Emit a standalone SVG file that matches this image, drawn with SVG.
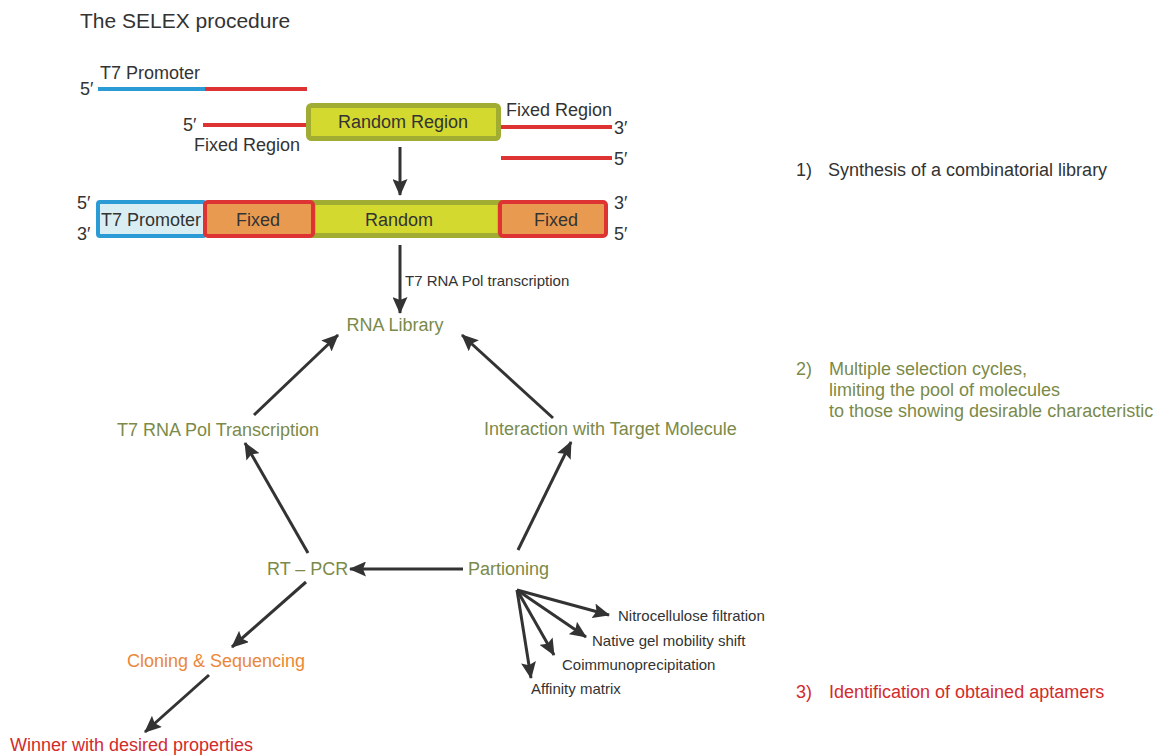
<svg xmlns="http://www.w3.org/2000/svg" width="1169" height="755" viewBox="0 0 1169 755">
<defs>
<style>
text{font-family:"Liberation Sans",Arial,sans-serif;fill:#333333}
.t16{font-size:18px}
.t17{font-size:18px}
.t13{font-size:15px}
.olive{fill:#7b8a48}
.orange{fill:#ea8838}
.red{fill:#d22b2b}
.conn{stroke:#333333;stroke-width:3;fill:none}
.redl{stroke:#dd3333;stroke-width:4}
.bluel{stroke:#2b9bd6;stroke-width:4}
</style>
<marker id="ah" markerUnits="userSpaceOnUse" markerWidth="17" markerHeight="15" refX="16" refY="7.5" orient="auto">
<path d="M0,0 L17,7.5 L0,15 L3,7.5 Z" fill="#333333"/>
</marker>
</defs>
<rect width="1169" height="755" fill="#ffffff"/>

<text x="80" y="28" style="font-size:21px">The SELEX procedure</text>

<g id="strand-top">
<text x="100" y="79" class="t16">T7 Promoter</text>
<text x="80" y="95" class="t16">5′</text>
<line x1="98" y1="89" x2="206" y2="89" class="bluel"/>
<line x1="205" y1="89" x2="307" y2="89" class="redl"/>
</g>

<g id="strand-left">
<text x="183" y="131" class="t16">5′</text>
<line x1="203" y1="125" x2="308" y2="125" class="redl"/>
<text x="194" y="151" class="t16">Fixed Region</text>
</g>

<g id="random-region">
<rect x="308.5" y="105.5" width="190" height="33" rx="3" fill="#d4d92f" stroke="#a0ad32" stroke-width="5"/>
<text x="403" y="128" class="t17" text-anchor="middle">Random Region</text>
</g>

<g id="strand-right">
<text x="506" y="116" class="t16">Fixed Region</text>
<line x1="501" y1="127" x2="612" y2="127" class="redl"/>
<text x="614" y="134" class="t16">3′</text>
<line x1="501" y1="158" x2="612" y2="158" class="redl"/>
<text x="614" y="165" class="t16">5′</text>
</g>

<g id="dsDNA">
<text x="77" y="209" class="t16">5′</text>
<text x="77" y="240" class="t16">3′</text>
<rect x="98" y="202" width="107" height="34" rx="2" fill="#d8eef2" stroke="#2b9bd6" stroke-width="4"/>
<text x="151" y="226" class="t17" text-anchor="middle">T7 Promoter</text>
<rect x="313" y="202.5" width="187" height="33" fill="#d4d92f" stroke="#a0ad32" stroke-width="5"/>
<text x="399" y="226" class="t17" text-anchor="middle">Random</text>
<rect x="205" y="202" width="108" height="34" rx="3" fill="#e89b50" stroke="#dd3333" stroke-width="4"/>
<text x="258" y="226" class="t17" text-anchor="middle">Fixed</text>
<rect x="500" y="202" width="106" height="34" rx="3" fill="#e89b50" stroke="#dd3333" stroke-width="4"/>
<text x="556" y="226" class="t17" text-anchor="middle">Fixed</text>
<text x="614" y="209" class="t16">3′</text>
<text x="614" y="240" class="t16">5′</text>
</g>

<g id="rna-library"><text x="395" y="331" class="t16 olive" text-anchor="middle">RNA Library</text></g>
<g id="t7-transcription"><text x="117" y="436" class="t16 olive">T7 RNA Pol Transcription</text></g>
<g id="interaction"><text x="484" y="435" class="t16 olive">Interaction with Target Molecule</text></g>
<g id="rt-pcr"><text x="267" y="575" class="t16 olive">RT – PCR</text></g>
<g id="partioning"><text x="468" y="575" class="t16 olive">Partioning</text></g>
<g id="cloning"><text x="127" y="667" class="t16 orange">Cloning &amp; Sequencing</text></g>
<g id="winner"><text x="10" y="751" class="t16 red">Winner with desired properties</text></g>

<g id="methods">
<text x="618" y="621" class="t13">Nitrocellulose filtration</text>
<text x="592" y="646" class="t13">Native gel mobility shift</text>
<text x="562" y="670" class="t13">Coimmunoprecipitation</text>
<text x="531" y="694" class="t13">Affinity matrix</text>
</g>

<g id="notes">
<text x="796" y="176" class="t16">1)</text>
<text x="828" y="176" class="t16">Synthesis of a combinatorial library</text>
<text x="796" y="375" class="t16 olive">2)</text>
<text x="829" y="375" class="t16 olive">Multiple selection cycles,</text>
<text x="829" y="396" class="t16 olive">limiting the pool of molecules</text>
<text x="829" y="417" class="t16 olive">to those showing desirable characteristic</text>
<text x="796" y="698" class="t16 red">3)</text>
<text x="829" y="698" class="t16 red">Identification of obtained aptamers</text>
</g>

<g id="connectors">
<line x1="400" y1="147" x2="400" y2="195" class="conn" marker-end="url(#ah)"/>
<line x1="400" y1="245" x2="400" y2="313" class="conn" marker-end="url(#ah)"/>
<text x="405" y="286" class="t13">T7 RNA Pol transcription</text>
<line x1="254" y1="415" x2="338" y2="335" class="conn" marker-end="url(#ah)"/>
<line x1="553" y1="418" x2="462" y2="335" class="conn" marker-end="url(#ah)"/>
<line x1="518" y1="550" x2="571" y2="442" class="conn" marker-end="url(#ah)"/>
<line x1="308" y1="553" x2="245" y2="443" class="conn" marker-end="url(#ah)"/>
<line x1="463" y1="569" x2="350" y2="569" class="conn" marker-end="url(#ah)"/>
<line x1="306" y1="582" x2="232" y2="647" class="conn" marker-end="url(#ah)"/>
<line x1="209" y1="675" x2="145" y2="732" class="conn" marker-end="url(#ah)"/>
<line x1="517" y1="590" x2="609" y2="615" class="conn" marker-end="url(#ah)"/>
<line x1="517" y1="590" x2="586" y2="637" class="conn" marker-end="url(#ah)"/>
<line x1="517" y1="590" x2="554" y2="655" class="conn" marker-end="url(#ah)"/>
<line x1="517" y1="590" x2="531" y2="678" class="conn" marker-end="url(#ah)"/>
</g>
</svg>
